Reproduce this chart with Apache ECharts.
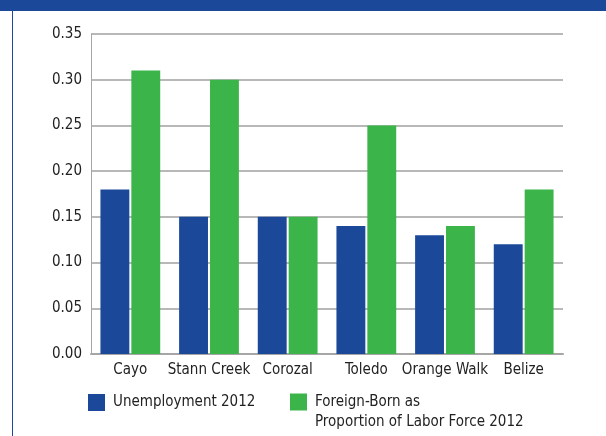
<!DOCTYPE html>
<html>
<head>
<meta charset="utf-8">
<script src="https://cdn.jsdelivr.net/npm/echarts@6/dist/echarts.min.js"></script>
<style>
  html, body { margin: 0; padding: 0; background: #fff; }
  #main { width: 606px; height: 436px; }
</style>
</head>
<body>
<div id="main"></div>
<script>
// data
var districts = ['Cayo', 'Stann Creek', 'Corozal', 'Toledo', 'Orange Walk', 'Belize'];
var unemployment = [0.18, 0.15, 0.15, 0.14, 0.13, 0.12];
var foreignBorn = [0.31, 0.30, 0.15, 0.25, 0.14, 0.18];

var FONT = '"Liberation Sans Narrow", "DejaVu Sans Condensed", Roboto, sans-serif';
var BLUE = '#1b4899';
var GREEN = '#3bb54a';

var myChart = echarts.init(document.getElementById('main'));

var option = {
    backgroundColor: '#fff',
    animation: false,
    textStyle: { fontFamily: FONT, color: '#222' },
    // top band and left frame line
    graphic: [
        { type: 'rect', left: 0, top: 0, shape: { width: 606, height: 11 }, style: { fill: BLUE } },
        { type: 'rect', left: 12, top: 11, shape: { width: 1, height: 425 }, style: { fill: BLUE } }
    ],
    grid: { left: 91, right: 43, top: 34, bottom: 82 },
    legend: [{
        data: ['Unemployment 2012'],
        left: 88, top: 394, padding: 0,
        itemWidth: 17, itemHeight: 17,
        icon: 'rect',
        textStyle: { fontFamily: FONT, fontSize: 15, color: '#222', padding: [0, 0, 0, 3] }
    }, {
        data: ['Foreign-Born as\nProportion of Labor Force 2012'],
        left: 290, top: 372, padding: 0,
        itemWidth: 17, itemHeight: 17,
        icon: 'rect',
        // blank first line keeps the first text line level with the square
        formatter: function (name) { return '\n' + name; },
        textStyle: { fontFamily: FONT, fontSize: 15, color: '#222', lineHeight: 20, padding: [0, 0, 0, 3] }
    }],
    xAxis: {
        type: 'category',
        data: districts,
        axisLine: { lineStyle: { color: '#a6a6a6', width: 2 } },
        axisTick: { show: false },
        axisLabel: { fontFamily: FONT, fontSize: 15, color: '#222', margin: 9, interval: 0 }
    },
    yAxis: {
        type: 'value',
        min: 0, max: 0.35, interval: 0.05,
        axisLine: { show: true, lineStyle: { color: '#a6a6a6', width: 1 } },
        axisTick: { show: false },
        splitLine: { lineStyle: { color: '#b8b8b8', width: 2 } },
        axisLabel: {
            fontFamily: FONT, fontSize: 15, color: '#222', margin: 9,
            formatter: function (v) { return v.toFixed(2); }
        }
    },
    series: [{
        name: 'Unemployment 2012',
        type: 'bar',
        data: unemployment,
        itemStyle: { color: BLUE },
        barGap: '7%',
        barCategoryGap: '24%'
    }, {
        name: 'Foreign-Born as\nProportion of Labor Force 2012',
        type: 'bar',
        data: foreignBorn,
        itemStyle: { color: GREEN }
    }]
};

myChart.setOption(option);
</script>
</body>
</html>
